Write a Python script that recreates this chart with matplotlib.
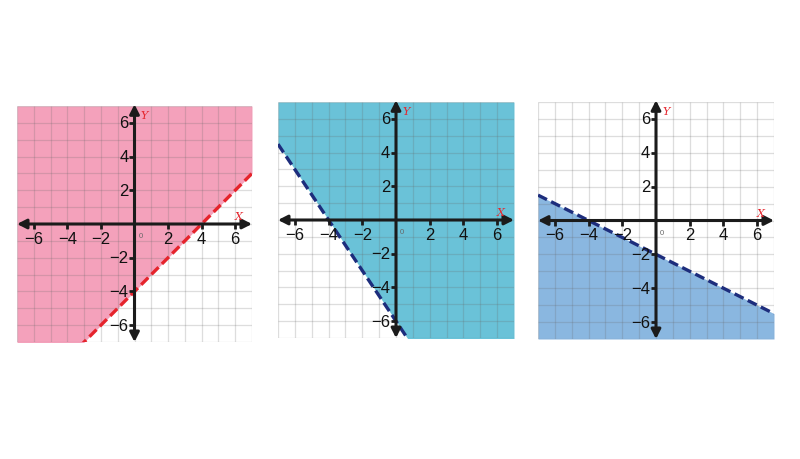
import matplotlib
matplotlib.use("Agg")

import matplotlib.pyplot as plt
import numpy as np

# three inequalities y > m*x + b (above) or y < m*x + b (below)
slopes = [1.0, -1.5, -0.5]
intercepts = [-4.0, -6.0, -2.0]
shade_above = [True, True, False]
fill_colors = ["#f4a1bb", "#6ac2d8", "#8ab7e0"]
line_colors = ["#e5242c", "#1d2d7c", "#1d2d7c"]
tick_values = [-6, -4, -2, 2, 4, 6]

LIM = 7.0
AXIS_COL = "#1b1b1b"

# panel rectangles in figure fractions (left, bottom, width, height)
panels = [
    (17 / 800, 1 - 343 / 460, 235 / 800, 236 / 460),
    (278 / 800, 1 - 339 / 460, 236 / 800, 236 / 460),
    (538 / 800, 1 - 340 / 460, 236 / 800, 237 / 460),
]

plt.rcParams["font.family"] = ["Liberation Sans", "DejaVu Sans"]
fig = plt.figure(figsize=(8, 4.6), dpi=100)


def draw_panel(rect, m, b, above, fcol, lcol):
    ax = fig.add_axes(rect)
    ax.set_xlim(-LIM, LIM)
    ax.set_ylim(-LIM, LIM)
    ax.axis("off")

    xs = np.array([-LIM, LIM])
    ys = m * xs + b
    if above:
        ax.fill_between(xs, ys, LIM, color=fcol, zorder=1, lw=0)
    else:
        ax.fill_between(xs, -LIM, ys, color=fcol, zorder=1, lw=0)

    # unit grid
    grid = np.arange(-7, 8)
    gcol = (0.4, 0.4, 0.4, 0.22)
    ax.vlines(grid, -LIM, LIM, color=gcol, lw=0.9, zorder=2)
    ax.hlines(grid, -LIM, LIM, color=gcol, lw=0.9, zorder=2)

    # boundary line (dashed), clipped to the panel
    ax.plot(xs, ys, color=lcol, lw=2.4, ls=(0, (3, 1.4)), zorder=3,
            solid_capstyle="butt", dash_capstyle="butt")

    # axes with arrows at both ends
    arrow = dict(arrowstyle="<|-|>,head_length=0.55,head_width=0.28",
                 color=AXIS_COL, lw=2.2, shrinkA=0, shrinkB=0)
    ax.annotate("", xy=(LIM, 0), xytext=(-LIM, 0), arrowprops=arrow,
                zorder=4, annotation_clip=False)
    ax.annotate("", xy=(0, LIM + 0.1), xytext=(0, -LIM), arrowprops=arrow,
                zorder=4, annotation_clip=False)

    tv = np.array(tick_values)
    ax.vlines(tv, -0.3, 0, color=AXIS_COL, lw=2.0, zorder=4)
    ax.hlines(tv, -0.3, 0, color=AXIS_COL, lw=2.0, zorder=4)
    for v in tick_values:
        lab = f"\u2212{abs(v)}" if v < 0 else str(v)
        ax.text(v, -0.4, lab, ha="center", va="top", fontsize=12,
                color="#111111", zorder=5)
        ax.text(-0.35, v, lab, ha="right", va="center", fontsize=12,
                color="#111111", zorder=5)

    ax.text(0.36, -0.68, "0", ha="center", va="center", fontsize=5.5,
            color="#666666", zorder=5)
    ax.text(6.2, 0.45, "X", ha="center", va="center", fontsize=8,
            color="#e5242c", style="italic", family="DejaVu Serif", zorder=5)
    ax.text(0.6, 6.45, "Y", ha="center", va="center", fontsize=8,
            color="#e5242c", style="italic", family="DejaVu Serif", zorder=5)


for rect, m, b, above, fcol, lcol in zip(panels, slopes, intercepts,
                                         shade_above, fill_colors, line_colors):
    draw_panel(rect, m, b, above, fcol, lcol)

fig.savefig("out.png", dpi=100)
